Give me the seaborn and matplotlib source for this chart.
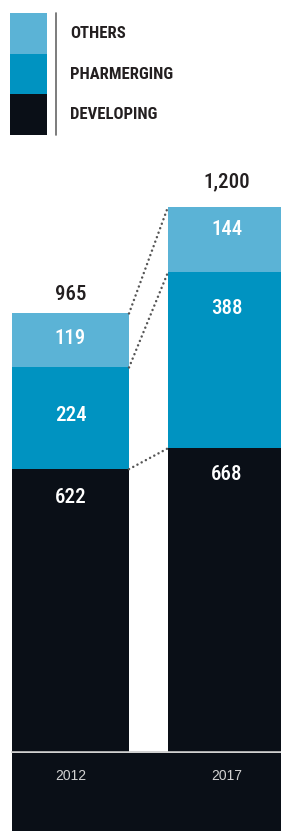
"""Stacked bar chart: pharma market spend by segment, 2012 vs 2017."""

import matplotlib
matplotlib.use("Agg")
import matplotlib.pyplot as plt
from matplotlib.patches import Rectangle
import pandas as pd
import seaborn as sns

# Chart data
years = ["2012", "2017"]
segments = ["OTHERS", "PHARMERGING", "DEVELOPING"]
developing = [622, 668]
pharmerging = [224, 388]
others = [119, 144]
totals = [965, 1200]

# Styling
COLORS = {"OTHERS": "#5bb3d6", "PHARMERGING": "#0093c1", "DEVELOPING": "#0a0f17"}
TEXT_DARK = "#231f20"
FONT = ["Liberation Sans Narrow", "Roboto Condensed", "DejaVu Sans"]

sns.set_theme(style="white")
plt.rcParams["font.family"] = FONT

W, H, DPI = 281, 831, 100
fig = plt.figure(figsize=(W / DPI, H / DPI), dpi=DPI)


def fig_box(x0, y0, x1, y1):
    """Pixel box (top-left origin) -> figure fraction rect."""
    return [x0 / W, (H - y1) / H, (x1 - x0) / W, (y1 - y0) / H]


df = pd.DataFrame({
    "year": years,
    "developing": developing,
    "pharmerging": pharmerging,
    "others": others,
})
df["dev_pharm"] = df["developing"] + df["pharmerging"]
df["total"] = df["dev_pharm"] + df["others"]

# Main bar axes
ax = fig.add_axes(fig_box(12, 150, 281, 751.5))
bar_w = 0.75
for col, seg in [("total", "OTHERS"), ("dev_pharm", "PHARMERGING"), ("developing", "DEVELOPING")]:
    sns.barplot(data=df, x="year", y=col, color=COLORS[seg], width=bar_w,
                saturation=1, edgecolor="none", linewidth=0, ax=ax)

ax.set_xlim(-bar_w / 2, 1.349)
ax.set_ylim(0, 1325)
ax.set_xlabel("")
ax.set_ylabel("")
ax.set_xticks([])
ax.set_yticks([])
for side in ["top", "left", "right"]:
    ax.spines[side].set_visible(False)
ax.spines["bottom"].set_color("#c8c8c8")
ax.spines["bottom"].set_linewidth(1.2)

# Dotted connectors between segment tops
for col in ["total", "dev_pharm", "developing"]:
    ax.plot([bar_w / 2, 1 - bar_w / 2], [df[col][0], df[col][1]],
            color="#555555", linestyle=(0, (0.01, 1.9)), linewidth=1.8,
            dash_capstyle="round")

# Segment value labels (drop below segment top, in pixels)
label_drop = {"others": [25, 23], "pharmerging": [48, 36], "developing": [28, 26]}
seg_top = {"others": "total", "pharmerging": "dev_pharm", "developing": "developing"}
for col, drops in label_drop.items():
    for i in range(len(years)):
        ax.annotate(f"{df[col][i]:,}", (i, df[seg_top[col]][i]),
                    xytext=(0, -drops[i]), textcoords="offset pixels",
                    ha="center", va="center", color="white",
                    fontsize=15, fontweight="medium")

# Totals above bars
total_rise = [19, 25]
for i in range(len(years)):
    ax.annotate(f"{totals[i]:,}", (i, df["total"][i]),
                xytext=(0, total_rise[i]), textcoords="offset pixels",
                ha="center", va="center", color=TEXT_DARK,
                fontsize=15, fontweight="medium")

# Dark band with year labels
band = fig.add_axes(fig_box(12, 753, 281, 831), sharex=ax)
band.set_facecolor("#0a0f17")
band.set_ylim(0, 1)
for spine in band.spines.values():
    spine.set_visible(False)
band.tick_params(left=False, bottom=False, labelleft=False, labelbottom=False)
for i, yr in enumerate(years):
    band.text(i, 0.70, yr, ha="center", va="center", color="#d2d2d2",
              fontsize=10, family=["Liberation Sans", "DejaVu Sans"])

# Legend block
leg = fig.add_axes([0, 0, 1, 1], zorder=-1)
leg.set_xlim(0, W)
leg.set_ylim(H, 0)
leg.axis("off")
sw_top, sw_h = 13, 40.7
for k, seg in enumerate(segments):
    y0 = sw_top + k * sw_h
    leg.add_patch(Rectangle((10, y0), 37, sw_h, facecolor=COLORS[seg], edgecolor="none"))
    leg.text(70, y0 + sw_h / 2, seg, ha="left", va="center", color=TEXT_DARK,
             fontsize=12, fontweight="bold")
leg.plot([56, 56], [sw_top, sw_top + 3 * sw_h], color="#666666", linewidth=1.2)

fig.savefig("out.png", dpi=DPI)
